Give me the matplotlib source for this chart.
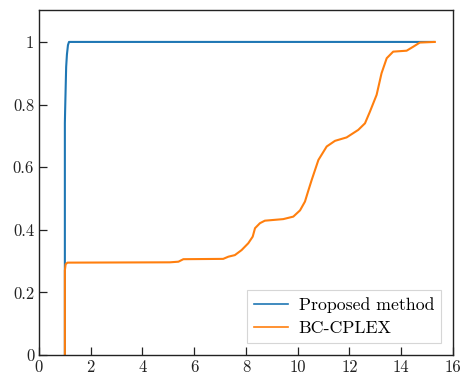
import matplotlib
matplotlib.use("Agg")
import matplotlib.pyplot as plt

plt.rcParams["font.family"] = ["cmr10", "DejaVu Serif"]
plt.rcParams["axes.formatter.use_mathtext"] = True
plt.rcParams["mathtext.fontset"] = "cm"

# Empirical CDF of solve time for each method
proposed_t = [1.0, 1.0, 1.01, 1.03, 1.05, 1.08, 1.12, 1.16, 15.25]
proposed_f = [0.0, 0.74, 0.78, 0.85, 0.92, 0.96, 0.99, 1.0, 1.0]

cplex_t = [1.0, 1.0, 1.03, 1.1, 5.06, 5.39, 5.58, 7.12, 7.32, 7.57, 7.83, 8.09,
           8.26, 8.35, 8.54, 8.73, 9.44, 9.83, 10.09, 10.28, 10.41, 10.54, 10.8,
           11.12, 11.44, 11.89, 12.34, 12.6, 12.79, 13.05, 13.24, 13.44, 13.69,
           14.21, 14.47, 14.72, 15.3]
cplex_f = [0.0, 0.27, 0.29, 0.295, 0.296, 0.298, 0.306, 0.307, 0.314, 0.319,
           0.335, 0.357, 0.378, 0.405, 0.421, 0.429, 0.434, 0.442, 0.462, 0.49,
           0.525, 0.559, 0.623, 0.666, 0.684, 0.695, 0.719, 0.74, 0.777, 0.831,
           0.9, 0.948, 0.969, 0.972, 0.985, 0.998, 1.0]

x_ticks = [0, 2, 4, 6, 8, 10, 12, 14, 16]
y_ticks = [0, 0.2, 0.4, 0.6, 0.8, 1.0]
y_tick_labels = ["0", "0.2", "0.4", "0.6", "0.8", "1"]

fig = plt.figure(figsize=(4.62, 3.76), dpi=100)
ax = fig.add_axes([0.0844, 0.0559, 0.896, 0.9175])

ax.plot(proposed_t, proposed_f, color="#1f77b4", lw=1.5, label="Proposed method")
ax.plot(cplex_t, cplex_f, color="#ff7f0e", lw=1.5, label="BC-CPLEX")

ax.set_xlim(0, 16)
ax.set_ylim(0, 1.102)
ax.set_xticks(x_ticks)
ax.set_xticklabels([str(v) for v in x_ticks])
ax.set_yticks(y_ticks)
ax.set_yticklabels(y_tick_labels)
ax.tick_params(direction="in", length=6, width=0.9, labelsize=12,
               colors="#222222")
for s in ax.spines.values():
    s.set_linewidth(1.0)
    s.set_color("#222222")

leg = ax.legend(loc="lower right", fontsize=12.8, fancybox=False,
                handlelength=1.9, handletextpad=0.6, borderaxespad=0.65,
                labelspacing=0.45)
leg.get_frame().set_edgecolor("#cccccc")
leg.get_frame().set_linewidth(0.8)
for h in leg.get_lines():
    h.set_linewidth(1.2)

fig.savefig("out.png", dpi=100)
